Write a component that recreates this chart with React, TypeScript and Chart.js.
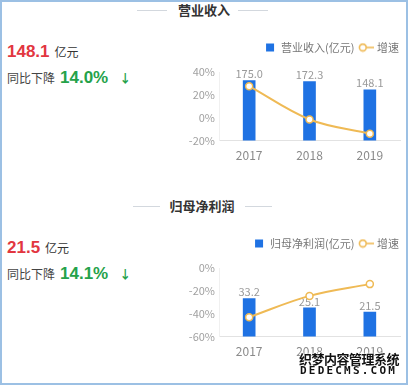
import React, { useEffect, useRef } from "react";
import { Chart, registerables } from "chart.js";

Chart.register(...registerables);

// ---- data ----
const years = ["2017", "2018", "2019"];
const revenue = [175.0, 172.3, 148.1];
const revenueGrowth = [27.6, -1.5, -14.0];
const profit = [33.2, 25.1, 21.5];
const profitGrowth = [-43.0, -24.4, -14.1];
const revenueTicks = [-20, 0, 20, 40];
const profitTicks = [-60, -40, -20, 0];

const BAR = "#1f72e3";
const LINE = "#efba55";
const FONT = '"Microsoft YaHei", "Noto Sans CJK SC", sans-serif';

function legendIcon(): HTMLCanvasElement {
  const c = document.createElement("canvas");
  c.width = 16;
  c.height = 10;
  const ctx = c.getContext("2d")!;
  ctx.strokeStyle = LINE;
  ctx.lineWidth = 1.6;
  ctx.beginPath();
  ctx.moveTo(8.5, 5);
  ctx.lineTo(16, 5);
  ctx.stroke();
  ctx.beginPath();
  ctx.arc(4.8, 5, 3.4, 0, Math.PI * 2);
  ctx.fillStyle = "#fff";
  ctx.fill();
  ctx.stroke();
  return c;
}

const barLabelPlugin = {
  id: "barLabels",
  afterDatasetDraw(chart: any, args: any) {
    if (args.index !== 0) return;
    const ctx = chart.ctx;
    const meta = args.meta;
    const data = chart.data.datasets[0].data as number[];
    ctx.save();
    ctx.font = `11px ${FONT}`;
    ctx.fillStyle = "#9a9a9a";
    ctx.textAlign = "center";
    ctx.textBaseline = "bottom";
    meta.data.forEach((el: any, i: number) => {
      ctx.fillText(data[i].toFixed(1), el.x, el.y - 1);
    });
    ctx.restore();
  },
};

const legendMarginPlugin = {
  id: "legendMargin",
  beforeInit(chart: any) {
    const lg = chart.legend;
    if (!lg) return;
    const fit = lg.fit;
    lg.fit = function () {
      fit.bind(lg)();
      this.height += 9;
    };
  },
  afterLayout(chart: any) {
    const lg = chart.legend;
    if (!lg) return;
    lg.left += 5;
    lg.right += 5;
  },
};

function MiniChart(props: {
  label: string;
  values: number[];
  growth: number[];
  barMax: number;
  ticks: number[];
}) {
  const ref = useRef<HTMLCanvasElement>(null);
  useEffect(() => {
    const icon = legendIcon();
    const tmin = Math.min(...props.ticks);
    const tmax = Math.max(...props.ticks);
    const chart = new Chart(ref.current!, {
      type: "bar",
      data: {
        labels: years,
        datasets: [
          {
            type: "bar",
            label: props.label,
            data: props.values,
            backgroundColor: BAR,
            barThickness: 12,
            yAxisID: "yb",
            order: 2,
            pointStyle: "rect",
          } as any,
          {
            type: "line",
            label: "增速",
            data: props.growth,
            borderColor: LINE,
            borderWidth: 2,
            tension: 0.35,
            pointRadius: 3.5,
            pointBackgroundColor: "#fff",
            pointBorderColor: LINE,
            pointBorderWidth: 1.5,
            yAxisID: "y",
            order: 1,
          } as any,
        ],
      },
      plugins: [barLabelPlugin, legendMarginPlugin],
      options: {
        animation: false,
        responsive: false,
        maintainAspectRatio: false,
        layout: { padding: { left: 0, right: 6, top: 0, bottom: 0 } },
        plugins: {
          tooltip: { enabled: false },
          legend: {
            position: "top",
            align: "end",
            labels: {
              usePointStyle: true,
              boxHeight: 8,
              padding: 6,
              color: "#777",
              font: { size: 11, family: FONT },
              sort: (a: any, b: any) => a.datasetIndex - b.datasetIndex,
              generateLabels: (chart: any) => {
                const items = Chart.defaults.plugins.legend.labels.generateLabels(chart);
                return items.map((it: any) =>
                  it.datasetIndex === 1
                    ? { ...it, pointStyle: icon, fillStyle: "#fff" }
                    : { ...it, pointStyle: "rect", strokeStyle: BAR, lineWidth: 0 }
                );
              },
            },
          },
        },
        scales: {
          x: {
            grid: { display: false, drawTicks: false },
            border: { display: true, color: "#e2e2e2" },
            ticks: { color: "#8a8a8a", padding: 8, font: { size: 12, family: FONT } },
          },
          y: {
            position: "left",
            min: tmin,
            max: tmax,
            afterBuildTicks: (axis: any) => {
              axis.ticks = props.ticks.map((v) => ({ value: v }));
            },
            afterFit: (axis: any) => {
              axis.width = 39;
            },
            grid: { display: false, drawTicks: false },
            border: { display: true, color: "#f0f0f0" },
            ticks: {
              color: "#a0a0a0",
              padding: 4,
              font: { size: 11, family: FONT },
              callback: (v: any) => `${v}%`,
            },
          },
          yb: {
            display: false,
            min: 0,
            max: props.barMax,
          },
        },
      } as any,
    });
    return () => chart.destroy();
  }, []);
  return <canvas ref={ref} width={226} height={135} style={{ display: "block", width: 226, height: 135 }} />;
}

function Section(props: {
  top: number;
  title: string;
  titleX: number;
  lineL: number;
  lineR: number;
  lineW: number;
  value: string;
  change: string;
  chartLabel: string;
  values: number[];
  growth: number[];
  barMax: number;
  ticks: number[];
}) {
  const t = props.top;
  return (
    <>
      <div style={{ position: "absolute", left: props.lineL, top: t + 10, width: props.lineW, height: 1, background: "#d3d8de" }} />
      <div style={{ position: "absolute", left: props.lineR, top: t + 10, width: props.lineW, height: 1, background: "#d3d8de" }} />
      <div
        style={{
          position: "absolute",
          left: props.titleX - 40,
          width: 80,
          top: t + 1,
          textAlign: "center",
          font: `bold 13px ${FONT}`,
          color: "#333",
          lineHeight: "18px",
        }}
      >
        {props.title}
      </div>
      <div style={{ position: "absolute", left: 7, top: t + 41, lineHeight: "22px", whiteSpace: "nowrap" }}>
        <span style={{ font: "bold 17px Arial, 'Liberation Sans', sans-serif", color: "#e2363f" }}>{props.value}</span>
        <span style={{ font: `12px ${FONT}`, color: "#333", marginLeft: 5 }}>亿元</span>
      </div>
      <div style={{ position: "absolute", left: 7, top: t + 67, lineHeight: "22px", whiteSpace: "nowrap" }}>
        <span style={{ font: `12px ${FONT}`, color: "#444" }}>同比下降</span>
        <span style={{ font: "bold 17px Arial, 'Liberation Sans', sans-serif", color: "#25a24a", marginLeft: 5 }}>
          {props.change}
        </span>
        <span style={{ font: `bold 12px ${FONT}`, color: "#25a24a", marginLeft: 11 }}>↓</span>
      </div>
      <div style={{ position: "absolute", left: 180, top: t + 36 }}>
        <MiniChart
          label={props.chartLabel}
          values={props.values}
          growth={props.growth}
          barMax={props.barMax}
          ticks={props.ticks}
        />
      </div>
    </>
  );
}

export default function App() {
  return (
    <div
      style={{
        position: "fixed",
        left: 0,
        top: 0,
        width: 408,
        height: 385,
        boxSizing: "border-box",
        border: "2px solid #9cc0e4",
        background: "#fff",
        overflow: "hidden",
      }}
    >
      <div style={{ position: "absolute", left: -2, top: -2, width: 408, height: 385 }}>
        <Section
          top={0}
          title="营业收入"
          titleX={204}
          lineL={137}
          lineR={238}
          lineW={30}
          value="148.1"
          change="14.0%"
          chartLabel="营业收入(亿元)"
          values={revenue}
          growth={revenueGrowth}
          barMax={200}
          ticks={revenueTicks}
        />
        <Section
          top={196}
          title="归母净利润"
          titleX={202}
          lineL={133}
          lineR={245}
          lineW={27}
          value="21.5"
          change="14.1%"
          chartLabel="归母净利润(亿元)"
          values={profit}
          growth={profitGrowth}
          barMax={60}
          ticks={profitTicks}
        />
        <div
          style={{
            position: "absolute",
            left: 299,
            top: 349,
            font: `bold 13px ${FONT}`,
            color: "#111",
            letterSpacing: "-0.5px",
            textShadow: "0 0 2px #fff, 0 0 2px #fff",
            whiteSpace: "nowrap",
          }}
        >
          织梦内容管理系统
        </div>
        <div
          style={{
            position: "absolute",
            left: 300,
            top: 364,
            font: "bold 11px 'DejaVu Sans Mono', monospace",
            color: "#111",
            letterSpacing: "2.2px",
            textShadow: "0 0 2px #fff, 0 0 2px #fff",
            whiteSpace: "nowrap",
          }}
        >
          DEDECMS.COM
        </div>
      </div>
    </div>
  );
}
